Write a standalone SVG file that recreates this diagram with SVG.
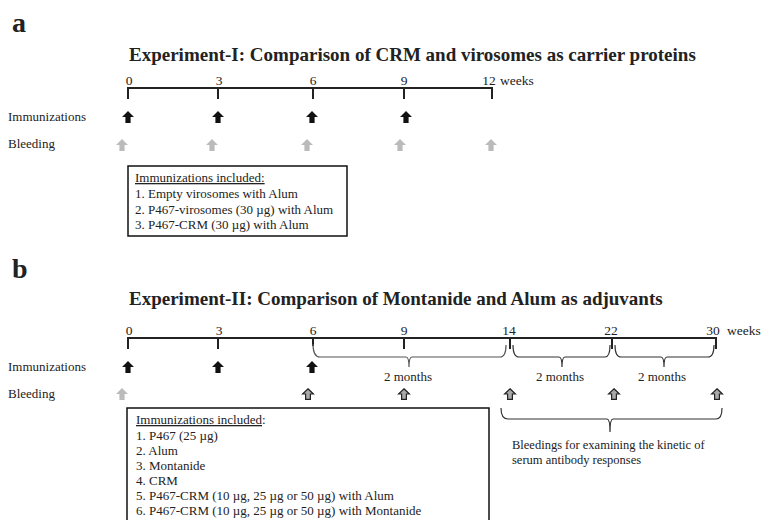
<svg xmlns="http://www.w3.org/2000/svg" width="764" height="520" viewBox="0 0 764 520">
<style>
text{font-family:"Liberation Serif","Times New Roman",serif;fill:#222}
.panel{font-size:28px;font-weight:bold}
.title{font-size:19px;font-weight:bold}
.tick{font-size:13.5px;text-anchor:middle}
.lab{font-size:13px}
.box{font-size:13px}
.small{font-size:12.5px}
.mid{text-anchor:middle}
.ln{stroke:#222;stroke-width:2;fill:none}
.br{stroke:#333;stroke-width:1.2;fill:none}
.frame{stroke:#111;stroke-width:1.5;fill:#fff}
</style>
<defs>
<path id="ablk" d="M0,0 L6,6 L2.6,6 L2.6,12 L-2.6,12 L-2.6,6 L-6,6 Z" fill="#111"/>
<path id="agry" d="M0,0 L6,6 L2.6,6 L2.6,12 L-2.6,12 L-2.6,6 L-6,6 Z" fill="#bbb"/>
<path id="aout" d="M0,0.8 L5.4,6 L2.4,6 L2.4,11.4 L-2.4,11.4 L-2.4,6 L-5.4,6 Z" fill="#aaa" stroke="#222" stroke-width="1.2"/>
</defs>

<g id="panel-a">
<text class="panel" x="12" y="32">a</text>
<text class="title" x="129" y="61">Experiment-I: Comparison of CRM and virosomes as carrier proteins</text>
<g id="timeline-a">
<path class="ln" d="M128,99 V88 H492 V99 M218,88 V99 M313,88 V99 M404,88 V99"/>
<text class="tick" x="129" y="85">0</text>
<text class="tick" x="219" y="85">3</text>
<text class="tick" x="313" y="85">6</text>
<text class="tick" x="404" y="85">9</text>
<text class="tick" x="489" y="85">12</text>
<text class="tick" x="500" y="85" style="text-anchor:start">weeks</text>
</g>
<g id="immunizations-a">
<text class="lab" x="8" y="121">Immunizations</text>
<use href="#ablk" x="128" y="111"/>
<use href="#ablk" x="218" y="111"/>
<use href="#ablk" x="312" y="111"/>
<use href="#ablk" x="406" y="111"/>
</g>
<g id="bleeding-a">
<text class="lab" x="8" y="148">Bleeding</text>
<use href="#agry" x="122" y="139"/>
<use href="#agry" x="212" y="139"/>
<use href="#agry" x="307" y="139"/>
<use href="#agry" x="400" y="139"/>
<use href="#agry" x="491" y="139"/>
</g>
<g id="box-a">
<rect class="frame" x="128" y="166" width="219" height="70"/>
<text class="box" x="135" y="182" text-decoration="underline">Immunizations included:</text>
<text class="box" x="135" y="198">1. Empty virosomes with Alum</text>
<text class="box" x="135" y="214">2. P467-virosomes (30 µg) with Alum</text>
<text class="box" x="135" y="229">3. P467-CRM (30 µg) with Alum</text>
</g>
</g>

<g id="panel-b">
<text class="panel" x="12" y="278">b</text>
<text class="title" x="129" y="305">Experiment-II: Comparison of Montanide and Alum as adjuvants</text>
<g id="timeline-b">
<path class="ln" d="M128,349 V338 H716 V349 M218,338 V349 M404,338 V349 M510,338 V349 M612,338 V349 M313,338 V346"/>
<text class="tick" x="129" y="335">0</text>
<text class="tick" x="219" y="335">3</text>
<text class="tick" x="313" y="335">6</text>
<text class="tick" x="404" y="335">9</text>
<text class="tick" x="509" y="335">14</text>
<text class="tick" x="611" y="335">22</text>
<text class="tick" x="713" y="335">30</text>
<text class="tick" x="727" y="335" style="text-anchor:start">weeks</text>
</g>
<g id="connectors">
<path class="br" style="stroke:#555" d="M313,344 Q313,357 320,357 H406 Q409,357 409,367 Q409,357 412,357 H500 Q506,357 506,345"/>
<path class="br" d="M513,345 Q513,357 519,357 H559 Q562,357 562,367 Q562,357 565,357 H605 Q610,357 610,345"/>
<path class="br" d="M615,345 Q615,357 621,357 H661 Q664,357 664,367 Q664,357 667,357 H708 Q714,357 714,345"/>
<path class="br" d="M501,408 Q501,419 508,419 H607 Q610,419 610,432 Q610,419 613,419 H716 Q722,419 722,408"/>
</g>
<text class="lab mid" x="408" y="381">2 months</text>
<text class="lab mid" x="560" y="381">2 months</text>
<text class="lab mid" x="662" y="381">2 months</text>
<g id="immunizations-b">
<text class="lab" x="8" y="371">Immunizations</text>
<use href="#ablk" x="128" y="361"/>
<use href="#ablk" x="218" y="361"/>
<use href="#ablk" x="312" y="361"/>
</g>
<g id="bleeding-b">
<text class="lab" x="8" y="398">Bleeding</text>
<use href="#agry" x="122" y="388"/>
<use href="#aout" x="308" y="388"/>
<use href="#aout" x="404" y="388"/>
<use href="#aout" x="510" y="388"/>
<use href="#aout" x="614" y="388"/>
<use href="#aout" x="717" y="388"/>
</g>
<g id="note-b">
<text class="small" x="512" y="449">Bleedings for examining the kinetic of</text>
<text class="small" x="512" y="464">serum antibody responses</text>
</g>
<g id="box-b">
<rect class="frame" x="127" y="408" width="362" height="130"/>
<text class="box" x="136" y="424"><tspan text-decoration="underline">Immunizations included</tspan>:</text>
<text class="box" x="136" y="440">1. P467 (25 µg)</text>
<text class="box" x="136" y="455">2. Alum</text>
<text class="box" x="136" y="470">3. Montanide</text>
<text class="box" x="136" y="485">4. CRM</text>
<text class="box" x="136" y="500">5. P467-CRM (10 µg, 25 µg or 50 µg) with Alum</text>
<text class="box" x="136" y="515">6. P467-CRM (10 µg, 25 µg or 50 µg) with Montanide</text>
</g>
</g>
</svg>
